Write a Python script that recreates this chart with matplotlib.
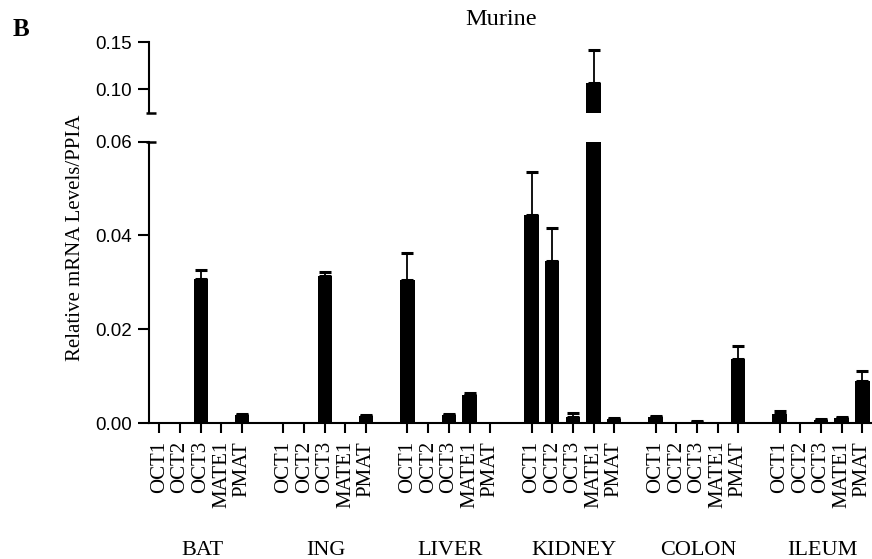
import matplotlib
matplotlib.use("Agg")
import matplotlib.pyplot as plt
import numpy as np

groups = ["BAT", "ING", "LIVER", "KIDNEY", "COLON", "ILEUM"]
genes = ["OCT1", "OCT2", "OCT3", "MATE1", "PMAT"]

bat = [0.0, 0.0, 0.0307, 0.0, 0.0016]
ing = [0.0, 0.0, 0.0314, 0.0, 0.0014]
liver = [0.0304, 0.0, 0.0018, 0.0059, 0.0]
kidney = [0.0444, 0.0345, 0.0013, 0.1067, 0.0008]
colon = [0.0013, 0.0, 0.0003, 0.0, 0.0137]
ileum = [0.0019, 0.0, 0.0007, 0.0011, 0.0089]

bat_err = [0.0, 0.0, 0.0020, 0.0, 0.0003]
ing_err = [0.0, 0.0, 0.0009, 0.0, 0.0002]
liver_err = [0.0059, 0.0, 0.0002, 0.0004, 0.0]
kidney_err = [0.0092, 0.0071, 0.0008, 0.0348, 0.0002]
colon_err = [0.0002, 0.0, 0.0001, 0.0, 0.0027]
ileum_err = [0.0007, 0.0, 0.0001, 0.0002, 0.0022]

values = [bat, ing, liver, kidney, colon, ileum]
errors = [bat_err, ing_err, liver_err, kidney_err, colon_err, ileum_err]

SERIF = "Liberation Serif"
SANS = "Liberation Sans"

W, H = 872, 559
fig = plt.figure(figsize=(W / 100, H / 100), dpi=100)

left = 149.3 / W
width = 1 - left
ax_lo = fig.add_axes([left, 1 - 423 / H, width, (423 - 141.7) / H])
ax_hi = fig.add_axes([left, 1 - 112.7 / H, width, (112.7 - 42.3) / H])

xpos = []
heights = []
errs = []
labels = []
for gi, (vals, es) in enumerate(zip(values, errors)):
    for j, (v, e) in enumerate(zip(vals, es)):
        xpos.append(gi * 6 + j)
        heights.append(v)
        errs.append(e)
        labels.append(genes[j])
xpos = np.array(xpos)
heights = np.array(heights)
errs = np.array(errs)

for ax in (ax_lo, ax_hi):
    ax.bar(xpos, heights, width=0.7, color="black", edgecolor="black", linewidth=0)
    m = errs > 0
    ax.errorbar(xpos[m], heights[m], yerr=[np.zeros(m.sum()), errs[m]], fmt="none",
                ecolor="black", elinewidth=1.3, capsize=4, capthick=2.2)
    ax.set_xlim(-0.49, 34.47)
    for s in ("top", "right"):
        ax.spines[s].set_visible(False)
    ax.spines["left"].set_linewidth(1.5)
    ax.tick_params(axis="y", direction="out", length=8, width=1.5, pad=4.5,
                   labelsize=13.5)

ax_lo.set_ylim(0, 0.06)
ax_lo.set_yticks([0.0, 0.02, 0.04, 0.06])
ax_lo.set_yticklabels(["0.00", "0.02", "0.04", "0.06"], fontfamily=SANS, fontsize=13.5)
ax_lo.spines["bottom"].set_linewidth(1.5)
ax_lo.set_xticks(xpos)
ax_lo.set_xticklabels(labels, rotation=90, fontfamily=SERIF, fontsize=15, va="top")
ax_lo.tick_params(axis="x", direction="out", length=7, width=1.5, pad=6)

ax_hi.set_ylim(0.075, 0.15)
ax_hi.set_yticks([0.10, 0.15])
ax_hi.set_yticklabels(["0.10", "0.15"], fontfamily=SANS, fontsize=13.5)
ax_hi.spines["bottom"].set_visible(False)
ax_hi.set_xticks([])

# break marks
bw = ax_lo.get_position().width * W
for ax, yy in ((ax_hi, 0.0), (ax_lo, 1.0)):
    ax.plot([-3 / bw, 7 / bw], [yy, yy], transform=ax.transAxes, color="black",
            lw=1.8, clip_on=False, solid_capstyle="butt")

# group labels
for gi, g in enumerate(groups):
    xc = gi * 6 + 2
    xd = ax_lo.transData.transform((xc, 0))[0]
    xf = fig.transFigure.inverted().transform((xd, 0))[0]
    fig.text(xf + 1.5 / W, 1 - 555 / H, g, ha="center", va="baseline", fontfamily=SERIF,
             fontsize=16)

fig.text(75 / W, 1 - 238 / H, "Relative mRNA Levels/PPIA", rotation=90, ha="center",
         va="center", fontfamily=SERIF, fontsize=15)
fig.text(501 / W, 1 - 25 / H, "Murine", ha="center", va="baseline", fontfamily=SERIF,
         fontsize=17.5)
fig.text(13 / W, 1 - 36 / H, "B", ha="left", va="baseline", fontfamily=SERIF,
         fontsize=18, fontweight="bold")

fig.savefig("out.png", dpi=100)
